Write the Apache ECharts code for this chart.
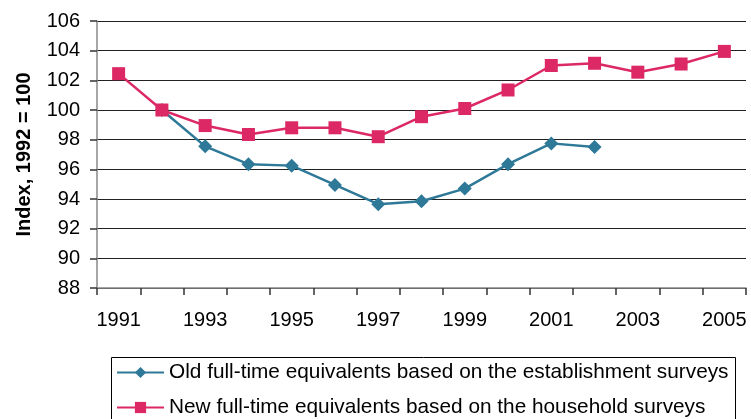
<!DOCTYPE html>
<html><head><meta charset="utf-8">
<script src="https://cdn.jsdelivr.net/npm/echarts@6/dist/echarts.min.js"></script>
<style>html,body{margin:0;padding:0;background:#fff}#c{width:751px;height:419px}</style>
</head><body><div id="c"></div>
<script>
const years = ['1991','1992','1993','1994','1995','1996','1997','1998','1999','2000','2001','2002','2003','2004','2005'];
const oldFte = [null, 100.0, 97.55, 96.35, 96.25, 94.95, 93.65, 93.85, 94.7, 96.35, 97.75, 97.5, null, null, null];
const newFte = [102.45, 100.0, 98.95, 98.35, 98.8, 98.8, 98.2, 99.55, 100.1, 101.35, 103.0, 103.15, 102.55, 103.1, 103.95];
const seriesNames = ['Old full-time equivalents based on the establishment surveys','New full-time equivalents based on the household surveys'];
const yAxisName = 'Index, 1992 = 100';

const FS = 20;
const legendBase = {
  orient: 'horizontal', left: 116, padding: 0,
  itemWidth: 47, itemHeight: 14,
  textStyle: {fontSize: 20.8, color: '#000'}
};
const chart = echarts.init(document.getElementById('c'));
chart.setOption({
  animation: false,
  textStyle: {fontFamily: 'Liberation Sans, Arial, sans-serif'},
  grid: {left: 97, right: 5, top: 21, bottom: 131},
  xAxis: {
    type: 'category', data: years, boundaryGap: true,
    axisLine: {lineStyle: {color: '#888', width: 1.5}},
    axisTick: {show: true, interval: 0, length: 7, inside: false, lineStyle: {color: '#333', width: 1.5}},
    axisLabel: {interval: 1, fontSize: FS, color: '#000', margin: 22},
    splitLine: {show: false}
  },
  yAxis: {
    type: 'value', min: 88, max: 106, interval: 2,
    name: yAxisName, nameLocation: 'middle', nameGap: 63, nameRotate: 90,
    nameTextStyle: {fontSize: FS, fontWeight: 'bold', color: '#000'},
    axisLine: {show: true, lineStyle: {color: '#888', width: 1.5}},
    axisTick: {show: true, length: 7, lineStyle: {color: '#333', width: 1.5}},
    axisLabel: {fontSize: FS, color: '#000', margin: 17},
    splitLine: {lineStyle: {color: '#222', width: 1.2}}
  },
  legend: [
    Object.assign({}, legendBase, {top: 362, data: [seriesNames[0]]}),
    Object.assign({}, legendBase, {top: 397, data: [seriesNames[1]]})
  ],
  graphic: [{
    type: 'rect', left: 109, top: 355, silent: true,
    shape: {width: 624, height: 90},
    style: {fill: 'none', stroke: '#000', lineWidth: 1}
  }],
  series: [
    {name: seriesNames[0], type: 'line', data: oldFte, symbol: 'diamond', symbolSize: 14,
     connectNulls: false,
     lineStyle: {color: '#2e7898', width: 2.5}, itemStyle: {color: '#2e7898'}},
    {name: seriesNames[1], type: 'line', data: newFte, symbol: 'rect', symbolSize: 13,
     lineStyle: {color: '#dc2864', width: 2.5}, itemStyle: {color: '#dc2864'}}
  ]
});
</script></body></html>
